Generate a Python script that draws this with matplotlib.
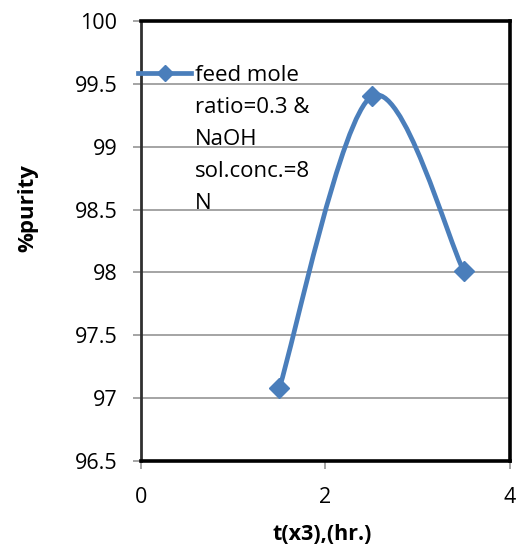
import numpy as np
import matplotlib.pyplot as plt
from matplotlib.path import Path
from matplotlib.patches import PathPatch
from matplotlib.lines import Line2D

plt.rcParams['font.family'] = ['Open Sans', 'DejaVu Sans']

t = [1.5, 2.5, 3.5]
purity = [97.08, 99.4, 98.01]
label = "feed mole\nratio=0.3 &\nNaOH\nsol.conc.=8\nN"

blue = '#4a7ebb'

fig = plt.figure(figsize=(5.23, 5.47), dpi=100)
ax = fig.add_axes([0.2696, 0.1572, 0.7054, 0.8044])

# smoothed line, bezier segments like a spreadsheet "smooth line"
pts = np.column_stack([t, purity])
verts = [pts[0]]
codes = [Path.MOVETO]
n = len(pts)
for i in range(n - 1):
    p0 = pts[max(i - 1, 0)]
    p1 = pts[i]
    p2 = pts[i + 1]
    p3 = pts[min(i + 2, n - 1)]
    verts += [p1 + (p2 - p0) / 6, p2 - (p3 - p1) / 6, p2]
    codes += [Path.CURVE4] * 3
ax.add_patch(PathPatch(Path(verts, codes), fill=False, edgecolor=blue,
                       lw=3.4, capstyle='round', zorder=3))
ax.plot(t, purity, ls='none', marker='D', ms=10, color=blue, zorder=4)

ax.set_xlim(0, 4)
ax.set_ylim(96.5, 100)
ax.set_xticks([0, 2, 4])
ax.set_yticks(np.arange(96.5, 100.01, 0.5))
ax.set_yticklabels(['96.5', '97', '97.5', '98', '98.5', '99', '99.5', '100'])
ax.grid(axis='y', color='#8c8c8c', lw=1.1)
ax.set_axisbelow(True)
ax.tick_params(labelsize=15.5, color='#8c8c8c', length=6, width=1.1)
ax.tick_params(axis='y', pad=11)
ax.tick_params(axis='x', pad=13)

for s in ['top', 'right', 'bottom']:
    ax.spines[s].set_linewidth(2.6)
ax.spines['left'].set_linewidth(2)
ax.spines['left'].set_color('#303030')

ax.set_xlabel('t(x3),(hr.)', fontsize=15.5, fontweight='bold')
ax.xaxis.set_label_coords(0.49, -0.143)
ax.set_ylabel('%purity', fontsize=16, fontweight='bold')
ax.yaxis.set_label_coords(-0.279, 0.575)

h = Line2D([], [], color=blue, lw=3.4, marker='D', ms=8)
leg = ax.legend([h], [label], loc='upper left', bbox_to_anchor=(-0.008, 0.9),
                frameon=False, fontsize=16, handlelength=2.4, handletextpad=0.17,
                borderaxespad=0, borderpad=0)
for t_ in leg.get_texts():
    t_.set_linespacing(1.68)
# keep the legend symbol level with the first text line
for col in leg._legend_handle_box.get_children():
    for item in col.get_children():
        item.align = 'top'

fig.savefig('out.png', dpi=100)
